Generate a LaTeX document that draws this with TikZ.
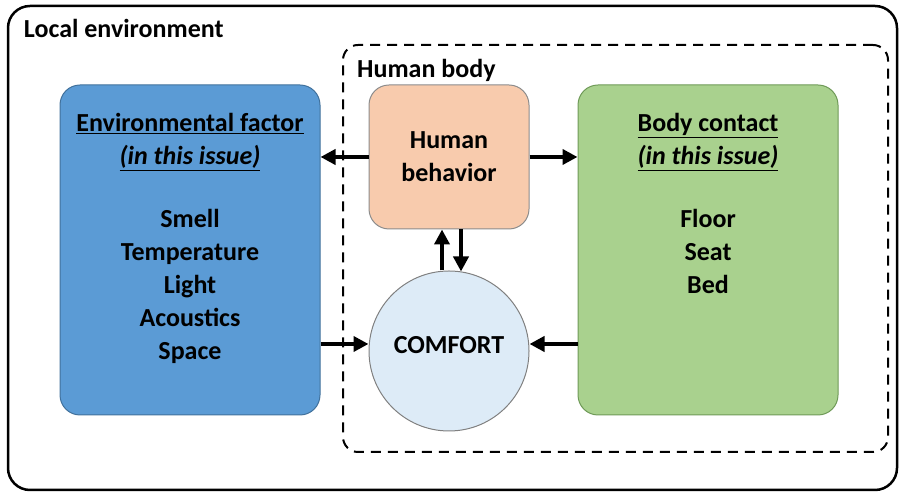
\documentclass[tikz,border=0pt]{standalone}
\usepackage{fontspec}
\setmainfont{Carlito}
\usetikzlibrary{arrows.meta, positioning}

\definecolor{envblue}{HTML}{5B9BD5}
\definecolor{envline}{HTML}{41719C}
\definecolor{behorange}{HTML}{F8CBAD}
\definecolor{contgreen}{HTML}{A9D18E}
\definecolor{contline}{HTML}{6F9A58}
\definecolor{comfblue}{HTML}{DDEBF7}

\begin{document}
\begin{tikzpicture}[x=1pt, y=1pt, font=\fontsize{26}{33}\selectfont\bfseries,
    big box/.style={rounded corners=20pt, line width=1pt, minimum width=260pt, minimum height=330pt},
    text block/.style={inner sep=0pt, align=center},
    thick arrow/.style={line width=4pt, -{Triangle[length=15pt, width=15pt]}}]
\useasboundingbox (0,0) rectangle (899,494);
% outer frame and human body
\node[draw, line width=2.5pt, rounded corners=22pt, minimum width=889pt, minimum height=484pt] (local) at (452.5,246) {};
\node[text block, anchor=north west] (localtxt) at ([xshift=17pt, yshift=-14pt]local.north west) {Local environment};
\node[draw, line width=2pt, dash pattern=on 10pt off 7pt, rounded corners=15pt, minimum width=545pt, minimum height=407pt] (body) at (615.5,245.5) {};
\node[text block, anchor=north west] (bodytxt) at ([xshift=15pt, yshift=-15pt]body.north west) {Human body};
% the three boxes and the circle
\node[big box, draw=envline, fill=envblue] (env) at (190,244) {};
\node[big box, draw=contline, fill=contgreen] (cont) at (708,244) {};
\node[draw=black!45, fill=behorange, rounded corners=20pt, line width=1pt, minimum width=160pt, minimum height=144pt, align=center] (beh) at (449,337) {Human\\behavior};
\node[circle, draw=black!50, fill=comfblue, line width=1pt, minimum size=160pt, inner sep=0pt, text depth=12pt] (comf) at (449,143) {COMFORT};
\node[text block, below=29pt of env.north] (envtxt) {\underline{Environmental factor}\\\underline{\textit{(in this issue)}}\\[30pt]Smell\\Temperature\\Light\\Acoustics\\Space};
\node[text block, below=29pt of cont.north] (conttxt) {\underline{Body contact}\\\underline{\textit{(in this issue)}}\\[30pt]Floor\\Seat\\Bed};
% arrows
\draw[thick arrow] (beh.west) -- (beh.west -| env.east);
\draw[thick arrow] (beh.east) -- (beh.east -| cont.west);
\draw[thick arrow] ([xshift=-7pt]comf.north) -- ([xshift=-7pt]beh.south);
\draw[thick arrow] ([xshift=12pt]beh.south) -- ([xshift=12pt, yshift=-1pt]comf.north);
\draw[thick arrow] ([yshift=7pt]env.east |- comf.west) -- ([yshift=7pt]comf.west);
\draw[thick arrow] ([yshift=7pt]cont.west |- comf.east) -- ([yshift=7pt]comf.east);
\end{tikzpicture}
\end{document}
